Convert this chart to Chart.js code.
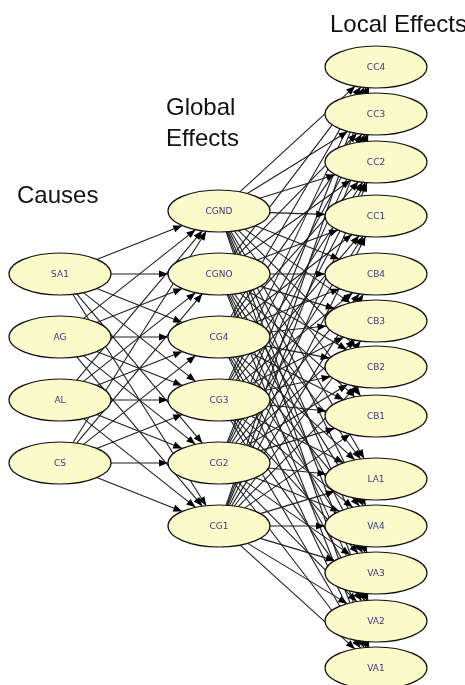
<!DOCTYPE html>
<html>
<head>
<meta charset="utf-8">
<script src="https://cdn.jsdelivr.net/npm/chart.js@4.4.0/dist/chart.umd.min.js"></script>
<style>
  html, body { margin: 0; padding: 0; background: #fff; }
  #net { display: block; }
</style>
</head>
<body>
<canvas id="net" width="465" height="685"></canvas>
<script>
// Node names per layer and their vertical positions (data units)
const causes = ['SA1', 'AG', 'AL', 'CS'];
const causeY = [274, 337, 400, 463];
const globalEffects = ['CGND', 'CGNO', 'CG4', 'CG3', 'CG2', 'CG1'];
const globalY = [211, 274, 337, 400, 463, 526];
const localEffects = ['CC4', 'CC3', 'CC2', 'CC1', 'CB4', 'CB3', 'CB2', 'CB1', 'LA1', 'VA4', 'VA3', 'VA2', 'VA1'];
const localY = [67, 114, 162, 216, 274, 321, 367, 416, 479, 526, 573, 621, 668];
const layerX = [60, 219, 376];

// Layer headings
const headings = [['Causes'], ['Global', 'Effects'], ['Local Effects']];

// layout / style
const headingPos = [[17, 203], [166, 115], [330, 32]];
const headingLineGap = 31;
const RX = 51, RY = 21;

const layers = [
  causes.map((n, i) => ({ name: n, x: layerX[0], y: causeY[i] })),
  globalEffects.map((n, i) => ({ name: n, x: layerX[1], y: globalY[i] })),
  localEffects.map((n, i) => ({ name: n, x: layerX[2], y: localY[i] }))
];
const allNodes = layers.flat();

// every node of a layer points to every node of the next one
const edges = [];
for (let l = 0; l < layers.length - 1; l++) {
  layers[l].forEach(a => layers[l + 1].forEach(b => edges.push([a, b])));
}

// cut an edge at the border of both ellipses
function clip(a, b) {
  const dx = b.x - a.x, dy = b.y - a.y;
  const t = 1 / Math.sqrt((dx / RX) ** 2 + (dy / RY) ** 2);
  return [{ x: a.x + dx * t, y: a.y + dy * t }, { x: b.x - dx * t, y: b.y - dy * t }];
}

const edgeSets = edges.map(([a, b]) => ({
  data: clip(a, b),
  showLine: true,
  borderColor: '#1e1e1e',
  borderWidth: 1.1,
  pointRadius: 0,
  clip: false
}));

const nodeSet = {
  data: allNodes.map(n => ({ x: n.x, y: n.y })),
  pointRadius: 0,
  showLine: false
};

const drawNet = {
  id: 'drawNet',
  afterDatasetsDraw(chart) {
    const ctx = chart.ctx;
    const xs = chart.scales.x, ys = chart.scales.y;
    ctx.save();

    // arrowheads
    ctx.fillStyle = '#000';
    edgeSets.forEach(s => {
      const p0 = s.data[0], p1 = s.data[1];
      const x0 = xs.getPixelForValue(p0.x), y0 = ys.getPixelForValue(p0.y);
      const x1 = xs.getPixelForValue(p1.x), y1 = ys.getPixelForValue(p1.y);
      const ang = Math.atan2(y1 - y0, x1 - x0);
      const len = 9, half = 3.6;
      ctx.beginPath();
      ctx.moveTo(x1, y1);
      ctx.lineTo(x1 - len * Math.cos(ang) + half * Math.sin(ang), y1 - len * Math.sin(ang) - half * Math.cos(ang));
      ctx.lineTo(x1 - len * Math.cos(ang) - half * Math.sin(ang), y1 - len * Math.sin(ang) + half * Math.cos(ang));
      ctx.closePath();
      ctx.fill();
    });

    // nodes
    allNodes.forEach(n => {
      const px = xs.getPixelForValue(n.x), py = ys.getPixelForValue(n.y);
      const rx = xs.getPixelForValue(n.x + RX) - px;
      const ry = Math.abs(ys.getPixelForValue(n.y + RY) - py);
      ctx.beginPath();
      ctx.ellipse(px, py, rx, ry, 0, 0, Math.PI * 2);
      ctx.fillStyle = '#fbfac9';
      ctx.fill();
      ctx.lineWidth = 1.2;
      ctx.strokeStyle = '#111';
      ctx.stroke();
      ctx.fillStyle = '#38387f';
      ctx.font = '9px "DejaVu Sans"';
      ctx.textAlign = 'center';
      ctx.textBaseline = 'middle';
      ctx.fillText(n.name, px, py + 1);
    });

    // headings
    ctx.fillStyle = '#111';
    ctx.font = '24px "Liberation Sans", Arial, sans-serif';
    ctx.textAlign = 'left';
    ctx.textBaseline = 'alphabetic';
    headings.forEach((lines, i) => {
      lines.forEach((t, j) => {
        ctx.fillText(t, xs.getPixelForValue(headingPos[i][0]),
          ys.getPixelForValue(headingPos[i][1] + j * headingLineGap));
      });
    });
    ctx.restore();
  }
};

new Chart(document.getElementById('net'), {
  type: 'scatter',
  data: { datasets: [...edgeSets, nodeSet] },
  options: {
    responsive: false,
    animation: false,
    layout: { padding: 0 },
    plugins: { legend: { display: false }, tooltip: { enabled: false } },
    scales: {
      x: { type: 'linear', min: 0, max: 465, display: false },
      y: { type: 'linear', min: 0, max: 685, reverse: true, display: false }
    }
  },
  plugins: [drawNet]
});
</script>
</body>
</html>
